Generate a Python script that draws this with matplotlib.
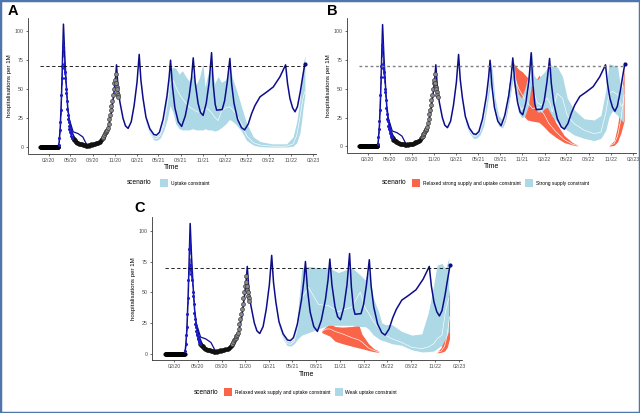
import matplotlib
matplotlib.use("Agg")
import matplotlib.pyplot as plt
import matplotlib.dates as mdates
from matplotlib.patches import Patch, Rectangle
import pandas as pd

plt.rcParams['font.family'] = ['Liberation Sans', 'DejaVu Sans']

# =========================
# 1. Datos: modelo base (línea azul oscuro)
# =========================
navy_dates = ["2019-12-28", "2020-03-10", "2020-03-15", "2020-03-20", "2020-03-25", "2020-03-29",
              "2020-04-02", "2020-04-07", "2020-04-13", "2020-04-19", "2020-04-25", "2020-05-05",
              "2020-05-19", "2020-06-08", "2020-06-28", "2020-07-25", "2020-08-20", "2020-09-05",
              "2020-09-22", "2020-10-04", "2020-10-18", "2020-10-29", "2020-11-04", "2020-11-08",
              "2020-11-14", "2020-11-22", "2020-12-05", "2020-12-15", "2020-12-26", "2021-01-08",
              "2021-01-20", "2021-02-01", "2021-02-10", "2021-02-17", "2021-02-26", "2021-03-10",
              "2021-03-26", "2021-04-12", "2021-04-23", "2021-05-05", "2021-05-20", "2021-06-05",
              "2021-06-14", "2021-06-20", "2021-06-28", "2021-07-08", "2021-07-22", "2021-08-05",
              "2021-08-20", "2021-09-05", "2021-09-15", "2021-09-22", "2021-09-30", "2021-10-12",
              "2021-10-22", "2021-11-02", "2021-11-15", "2021-11-27", "2021-12-07", "2021-12-14",
              "2021-12-22", "2021-12-28", "2022-01-20", "2022-01-30", "2022-02-10", "2022-02-21",
              "2022-02-28", "2022-03-10", "2022-03-25", "2022-04-10", "2022-04-23", "2022-05-08",
              "2022-05-22", "2022-06-05", "2022-06-26", "2022-07-23", "2022-08-20", "2022-09-16",
              "2022-10-10", "2022-10-18", "2022-10-28", "2022-11-08", "2022-11-18", "2022-11-28",
              "2022-12-10", "2022-12-20", "2022-12-29"]
navy_vals = [0, 0, 4, 18, 45, 75,
             106, 80, 56, 36, 25, 14.5,
             7.4, 3.3, 1.5, 1.5, 2.2, 4,
             8, 16, 30, 48, 60, 71,
             52, 39, 25, 18.5, 16.3, 22,
             36, 56, 80, 58, 42, 26,
             16, 11, 10.5, 13, 24, 44,
             60, 75, 52, 34, 22, 18,
             27, 44, 60, 77, 56, 38,
             30, 27.5, 38, 56, 81.5, 54,
             37, 32, 32.5, 40, 56, 76.5,
             55, 38, 24, 17, 15, 20,
             29, 36, 43.5, 47.5, 52, 60.5,
             71, 55, 42, 34, 30.6, 35,
             48, 61, 72]

# segundo ajuste (pequeña joroba mayo-julio 2020)
alt_dates = ["2020-04-25", "2020-05-12", "2020-06-01", "2020-06-21", "2020-07-05", "2020-07-12"]
alt_vals = [25, 13.4, 11.9, 9, 3.3, 1.3]

# =========================
# 2. Observaciones
# =========================
zero_dates = pd.date_range("2019-12-28", "2020-03-12", freq="D")
zero_vals = [0] * len(zero_dates)

blue_obs_dates = ["2020-03-14", "2020-03-16", "2020-03-18", "2020-03-20", "2020-03-22", "2020-03-24",
                  "2020-03-26", "2020-03-28", "2020-03-30", "2020-04-01", "2020-04-03", "2020-04-05",
                  "2020-04-07", "2020-04-09", "2020-04-11", "2020-04-13", "2020-04-15", "2020-04-17",
                  "2020-04-19", "2020-04-21", "2020-04-23", "2020-04-25", "2020-04-27", "2020-04-29",
                  "2020-05-01", "2020-05-03", "2020-05-05", "2020-05-07", "2020-05-09"]
blue_obs_vals = [2, 8, 15, 22, 32, 45,
                 60, 70, 85, 88, 72, 68,
                 65, 60, 50, 47, 40, 33,
                 28, 24, 22, 18, 16, 15,
                 13, 12, 10, 9, 8]
blue_obs_err = [1, 2, 3, 3, 4, 5,
                6, 6, 7, 7, 6, 6,
                5, 5, 5, 4, 4, 3,
                3, 3, 3, 2, 2, 2,
                2, 2, 1, 1, 1]

black_obs_dates = ["2020-05-11", "2020-05-14", "2020-05-17", "2020-05-20", "2020-05-23", "2020-05-26",
                   "2020-05-29", "2020-06-01", "2020-06-05", "2020-06-09", "2020-06-13", "2020-06-17",
                   "2020-06-21", "2020-06-25", "2020-06-29", "2020-07-03", "2020-07-07", "2020-07-11",
                   "2020-07-15", "2020-07-19", "2020-07-23", "2020-07-27", "2020-07-31", "2020-08-04",
                   "2020-08-08", "2020-08-12", "2020-08-16", "2020-08-20", "2020-08-24", "2020-08-28",
                   "2020-09-01", "2020-09-05", "2020-09-09"]
black_obs_vals = [8, 7, 6, 6, 5, 4.5,
                  4, 3.5, 3, 3, 2.5, 2.5,
                  2, 2, 2, 1.5, 1.5, 2,
                  1.5, 2, 2, 2.5, 2, 2.5,
                  3, 3, 3.5, 3.5, 4, 4.5,
                  5, 6, 7]

grey_obs_dates = ["2020-09-12", "2020-09-15", "2020-09-18", "2020-09-21", "2020-09-24", "2020-09-27",
                  "2020-09-30", "2020-10-03", "2020-10-06", "2020-10-09", "2020-10-12", "2020-10-15",
                  "2020-10-18", "2020-10-21", "2020-10-24", "2020-10-27", "2020-10-30", "2020-11-02",
                  "2020-11-04", "2020-11-06", "2020-11-08", "2020-11-10", "2020-11-12", "2020-11-14",
                  "2020-11-16"]
grey_obs_vals = [8, 9, 11, 12, 13, 14,
                 15, 17, 20, 24, 28, 32,
                 36, 40, 45, 50, 55, 58,
                 63, 55, 52, 50, 47, 45,
                 43]

# =========================
# 3. Escenarios (cintas)
# =========================
# Panel A: Uptake constraint
a_blue_dates = ["2021-03-08", "2021-03-24", "2021-04-10", "2021-04-24", "2021-05-08", "2021-05-22",
                "2021-06-06", "2021-06-18", "2021-06-30", "2021-07-12", "2021-07-26", "2021-08-08",
                "2021-08-22", "2021-09-05", "2021-09-20", "2021-10-04", "2021-10-18", "2021-11-01",
                "2021-11-10", "2021-11-22", "2021-12-06", "2021-12-20", "2022-01-03", "2022-01-17",
                "2022-02-03", "2022-02-20", "2022-03-06", "2022-03-21", "2022-04-10", "2022-05-01",
                "2022-05-29", "2022-06-26", "2022-08-15", "2022-10-14", "2022-11-10", "2022-11-25",
                "2022-12-08", "2022-12-15", "2022-12-22", "2022-12-29"]
a_blue_lo = [22, 12.5, 6.5, 6, 8, 14,
             24, 36, 30, 20, 16, 15,
             15, 15, 16, 15, 15, 15,
             16, 15, 15, 14, 15, 17,
             20, 24, 22, 19, 14, 6,
             2, 0.6, 0.2, 0.3, 1, 4,
             12, 22, 35, 45]
a_blue_med = [23.5, 14, 8, 7.5, 10, 18,
              36, 55, 58, 52, 46, 42,
              38, 35, 33, 31, 30, 32,
              33, 33, 30, 26, 23, 31,
              34, 35, 32, 28, 20, 10,
              4, 2, 1, 1, 3, 10,
              25, 35, 43, 48]
a_blue_hi = [25, 15.5, 10, 9.5, 12.5, 23,
             46, 67, 69, 68, 63, 66,
             61, 57, 63, 54, 60, 72,
             52, 63, 68, 55, 61, 56,
             58, 70, 58, 49, 35, 21,
             9, 5, 3, 3, 9, 22,
             40, 58, 72, 79]

# Panel B: Strong supply constraint
b_blue_dates = ["2021-03-10", "2021-03-26", "2021-04-12", "2021-04-25", "2021-05-10", "2021-05-25",
                "2021-06-08", "2021-06-22", "2021-06-30", "2021-07-10", "2021-07-25", "2021-08-10",
                "2021-08-22", "2021-09-08", "2021-09-24", "2021-10-02", "2021-10-15", "2021-10-28",
                "2021-11-10", "2021-11-25", "2021-12-09", "2021-12-18", "2022-01-01", "2022-01-18",
                "2022-02-01", "2022-02-11", "2022-02-22", "2022-03-04", "2022-03-25", "2022-04-15",
                "2022-05-05", "2022-06-02", "2022-07-14", "2022-08-24", "2022-09-21", "2022-10-11",
                "2022-10-25", "2022-11-08", "2022-11-29", "2022-12-13", "2022-12-24"]
b_blue_lo = [20, 12, 7, 7, 10, 18,
             35, 55, 45, 28, 18, 16,
             22, 40, 60, 45, 30, 25,
             26, 35, 55, 38, 30, 30,
             33, 34, 30, 26, 21, 17,
             14, 10, 7, 5, 7, 14,
             26, 31, 27, 23, 21]
b_blue_med = [22, 14, 9, 9, 13, 23,
              42, 65, 55, 35, 22, 19,
              27, 48, 68, 53, 38, 32,
              35, 48, 68, 48, 38, 36,
              40, 42, 38, 30, 46, 42,
              27, 20, 14, 11, 12.5, 29,
              46, 48, 45, 35, 37]
b_blue_hi = [24, 16, 11, 11, 15, 28,
             50, 74, 66, 43, 27, 23,
             32, 56, 76, 62, 46, 42,
             50, 62, 83, 62, 58, 62,
             65, 68, 72, 70, 69, 61,
             42, 32, 24, 23, 27, 49,
             72, 71, 69, 49, 55]

# Panel B: Relaxed strong supply and uptake constraint
b_red_dates = ["2021-08-08", "2021-08-22", "2021-09-08", "2021-09-22", "2021-10-03", "2021-10-17",
               "2021-10-31", "2021-11-21", "2021-12-12", "2022-01-08", "2022-01-29", "2022-02-18",
               "2022-03-18", "2022-04-22", "2022-05-26", "2022-06-16"]
b_red_lo = [16, 22, 42, 60, 45, 33, 28, 23, 22, 21, 17, 12.5, 8, 3.4, 1.3, 0.4]
b_red_med = [17, 25, 48, 66, 58, 50, 45, 38, 33, 34, 28, 20, 13, 6, 2, 0.8]
b_red_hi = [18, 30, 56, 74, 70, 67, 65, 60, 52, 62, 55, 34.5, 21, 9.6, 3.4, 1.3]

b_red_end_dates = ["2022-10-25", "2022-11-15", "2022-11-29", "2022-12-13", "2022-12-26"]
b_red_end_lo = [0.2, 1, 4, 12, 22]
b_red_end_med = [0.5, 2.5, 9, 24, 45]
b_red_end_hi = [1, 5, 18, 40, 68]

# Panel C: Weak uptake constraint
c_blue_dates = ["2021-03-08", "2021-03-24", "2021-04-10", "2021-04-24", "2021-05-08", "2021-05-22",
                "2021-06-06", "2021-07-02", "2021-08-09", "2021-09-17", "2021-10-25", "2021-12-16",
                "2022-01-17", "2022-02-05", "2022-02-18", "2022-03-09", "2022-03-29", "2022-04-10",
                "2022-04-23", "2022-05-19", "2022-06-26", "2022-08-04", "2022-09-11", "2022-10-07",
                "2022-10-27", "2022-11-09", "2022-11-28", "2022-12-11", "2022-12-24"]
c_blue_lo = [22, 12.5, 6.5, 6, 8, 12,
             15, 17, 20, 23, 23, 23,
             22, 22, 20, 15, 12, 10.7,
             10, 8, 6.7, 3, 1.3, 1.5,
             2, 4, 7, 12, 18]
c_blue_med = [23.5, 14, 8, 7.5, 10, 22,
              45, 54, 40, 39, 34, 38,
              50, 37, 33, 26, 21, 18,
              15, 12, 9, 5, 4, 5.4,
              8, 12, 15, 34, 45]
c_blue_hi = [25, 15.5, 10, 9.5, 12.5, 35,
             70, 71, 70, 70, 66, 70,
             64, 60, 67, 45, 34, 25,
             23.6, 23.6, 18, 15, 16, 34,
             56, 72, 73.5, 69, 77.5]

# Panel C: Relaxed weak supply and uptake constraint
c_red_dates = ["2021-08-22", "2021-09-08", "2021-09-23", "2021-10-12", "2021-11-10", "2021-12-15",
               "2022-01-12", "2022-01-23", "2022-02-18", "2022-03-10", "2022-03-29"]
c_red_lo = [17, 15.5, 14, 10, 8, 6, 4.5, 4, 2.5, 1.5, 1]
c_red_med = [18, 20, 20, 18, 16, 13, 11, 9.5, 4.5, 2.5, 1.3]
c_red_hi = [19, 22, 24.5, 22, 21.5, 22, 23, 16, 8, 4, 2]

c_red_end_dates = ["2022-11-10", "2022-11-25", "2022-12-08", "2022-12-18", "2022-12-27"]
c_red_end_lo = [0.5, 1, 2, 5, 12]
c_red_end_med = [0.8, 2, 6, 15, 30]
c_red_end_hi = [1.3, 5, 18, 35, 53]

threshold = 70

# =========================
# 4. Estilo
# =========================
col_navy = "#0d0d8c"
col_lblue = "#add8e6"
col_red = "#fa6448"
tick_fs = 3.8
lab_fs = 4.4


def ribbon(dates, lo, med, hi, color):
    return dict(dates=pd.to_datetime(dates), lo=lo, med=med, hi=hi, color=color)


def dibujar_panel(ax, ribbons, dash_color="black", dash_lw=0.6, dash_pat=(4, 3)):
    for rb in ribbons:
        ax.fill_between(rb["dates"], rb["lo"], rb["hi"], color=rb["color"], lw=0, zorder=1)
        ax.plot(rb["dates"], rb["med"], color="white", lw=0.45, zorder=2)

    ax.plot(pd.to_datetime(alt_dates), alt_vals, color=col_navy, lw=0.9, zorder=3)
    ax.plot(pd.to_datetime(navy_dates), navy_vals, color=col_navy, lw=1.1, zorder=3)
    ax.scatter(pd.to_datetime(navy_dates[-1:]), navy_vals[-1:], s=4, color=col_navy, zorder=3)

    ax.scatter(zero_dates, zero_vals, s=9, color="black", lw=0, zorder=4)
    ax.errorbar(pd.to_datetime(blue_obs_dates), blue_obs_vals, yerr=blue_obs_err, fmt="o",
                ms=2.2, color="#1c1cc8", mew=0, elinewidth=0.5, capsize=0, zorder=4)
    ax.scatter(pd.to_datetime(black_obs_dates), black_obs_vals, s=10, color="#111111", lw=0, zorder=4)
    ax.scatter(pd.to_datetime(grey_obs_dates), grey_obs_vals, s=8, facecolor="#8a8a8a",
               edgecolor="#333333", lw=0.45, zorder=4)

    ax.hlines(threshold, pd.Timestamp("2019-12-28"), pd.Timestamp("2022-12-29"),
              colors=dash_color, lw=dash_lw, linestyles=(0, dash_pat), zorder=5)

    ax.set_xlim(pd.Timestamp("2019-11-07"), pd.Timestamp("2023-02-13"))
    ax.set_ylim(-5.3, 111.3)
    ax.set_yticks([0, 25, 50, 75, 100])
    ax.xaxis.set_major_locator(mdates.MonthLocator(bymonth=[2, 5, 8, 11]))
    ax.xaxis.set_major_formatter(mdates.DateFormatter("%m/%y"))

    for s in ["top", "right"]:
        ax.spines[s].set_visible(False)
    for s in ["left", "bottom"]:
        ax.spines[s].set_color("#333333")
        ax.spines[s].set_linewidth(0.6)
    ax.tick_params(length=1.5, width=0.5, color="#333333", labelsize=tick_fs,
                   labelcolor="#4d4d4d", pad=1.5)
    ax.set_xlabel("Time", fontsize=lab_fs + 0.6, labelpad=1)
    ax.set_ylabel("hospitalisations per 1M", fontsize=lab_fs, labelpad=2)


def leyenda(fig, x_txt, x_leg, y, items):
    fig.text(x_txt / 640, 1 - y / 413, "scenario", fontsize=lab_fs + 0.3, va="center", ha="left")
    handles = [Patch(facecolor=c, edgecolor="none", label=l) for l, c in items]
    fig.legend(handles=handles, loc="center left", bbox_to_anchor=(x_leg / 640, 1 - y / 413),
               ncol=len(items), frameon=False, fontsize=3.5, handlelength=1.7, handleheight=1.9,
               handletextpad=0.5, columnspacing=0.9, borderpad=0, borderaxespad=0)


fig = plt.figure(figsize=(6.4, 4.13), dpi=100)

ax_a = fig.add_axes([28 / 640, 1 - 153.5 / 413, 288 / 640, 135.5 / 413])
ax_b = fig.add_axes([347 / 640, 1 - 152.5 / 413, 289 / 640, 134 / 413])
ax_c = fig.add_axes([152 / 640, 1 - 360 / 413, 310 / 640, 143 / 413])

dibujar_panel(ax_a, [ribbon(a_blue_dates, a_blue_lo, a_blue_med, a_blue_hi, col_lblue)])
dibujar_panel(ax_b, [ribbon(b_red_dates, b_red_lo, b_red_med, b_red_hi, col_red),
                     ribbon(b_red_end_dates, b_red_end_lo, b_red_end_med, b_red_end_hi, col_red),
                     ribbon(b_blue_dates, b_blue_lo, b_blue_med, b_blue_hi, col_lblue)],
              dash_color="#808080", dash_lw=1.0, dash_pat=(2, 2))
dibujar_panel(ax_c, [ribbon(c_red_dates, c_red_lo, c_red_med, c_red_hi, col_red),
                     ribbon(c_red_end_dates, c_red_end_lo, c_red_end_med, c_red_end_hi, col_red),
                     ribbon(c_blue_dates, c_blue_lo, c_blue_med, c_blue_hi, col_lblue)])

leyenda(fig, 127, 160, 183, [("Uptake constraint", col_lblue)])
leyenda(fig, 382, 412, 183, [("Relaxed strong supply and uptake constraint", col_red),
                             ("Strong supply constraint", col_lblue)])
leyenda(fig, 194, 224, 392, [("Relaxed weak supply and uptake constraint", col_red),
                             ("Weak uptake constraint", col_lblue)])

fig.text(8 / 640, 1 - 11 / 413, "A", fontsize=10.5, fontweight="bold", va="center")
fig.text(327 / 640, 1 - 11 / 413, "B", fontsize=10.5, fontweight="bold", va="center")
fig.text(134 / 640, 1 - 208 / 413, "C", fontsize=10.5, fontweight="bold", va="center")

fig.add_artist(Rectangle((0, 0), 1, 1, transform=fig.transFigure, fill=False,
                         edgecolor="#4f75ad", lw=2.5))

plt.savefig("out.png", dpi=100)
plt.close()
